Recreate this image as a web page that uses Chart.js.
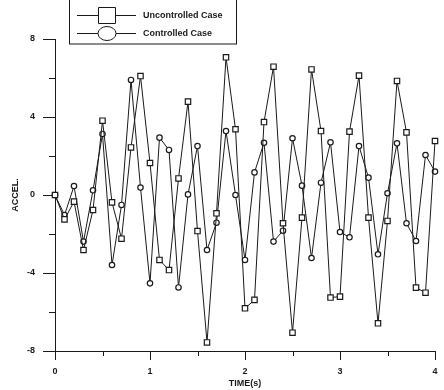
<!DOCTYPE html>
<html>
<head>
<meta charset="utf-8">
<script src="https://cdn.jsdelivr.net/npm/chart.js@4.4.1/dist/chart.umd.min.js"></script>
<style>
  html, body { margin: 0; padding: 0; background: #fff; }
  #wrap { width: 444px; height: 390px; position: relative; }
</style>
</head>
<body>
<div id="wrap"><canvas id="accelChart"></canvas></div>
<script>
// time samples (s)
const times = [0, 0.1, 0.2, 0.3, 0.4, 0.5, 0.6, 0.7, 0.8, 0.9,
  1.0, 1.1, 1.2, 1.3, 1.4, 1.5, 1.6, 1.7, 1.8, 1.9,
  2.0, 2.1, 2.2, 2.3, 2.4, 2.5, 2.6, 2.7, 2.8, 2.9,
  3.0, 3.1, 3.2, 3.3, 3.4, 3.5, 3.6, 3.7, 3.8, 3.9, 4.0];

// acceleration
const uncontrolled = [0, -1.25, -0.34, -2.82, -0.77, 3.81, -0.38, -2.24, 2.44, 6.1,
  1.64, -3.33, -3.85, 0.85, 4.79, -1.85, -7.56, -0.94, 7.06, 3.37,
  -5.81, -5.38, 3.74, 6.58, -1.45, -7.06, -1.16, 6.44, 3.28, -5.26,
  -5.21, 3.25, 6.12, -1.16, -6.58, -1.33, 5.85, 3.21, -4.75, -5.01, 2.77];

const controlled = [0, -1.03, 0.46, -2.39, 0.24, 3.13, -3.59, -0.51, 5.9, 0.38,
  -4.53, 2.94, 2.31, -4.74, 0.03, 2.51, -2.82, -1.42, 3.28, 0.0,
  -3.33, 1.16, 2.68, -2.39, -1.83, 2.91, 0.48, -3.23, 0.63, 2.7,
  -1.9, -2.17, 2.51, 0.89, -3.04, 0.09, 2.65, -1.45, -2.36, 2.05, 1.2];

const yMinorTicks = [6, 2, -2, -6];
const xMinorTicks = [0.5, 1.5, 2.5, 3.5];
const seriesNames = ['Uncontrolled Case', 'Controlled Case'];

const INK = '#1a1a1a';
const FONT = 'Liberation Sans, Arial, sans-serif';

function toPoints(ys) {
  return ys.map((y, i) => ({ x: times[i], y: y }));
}

// short unlabelled ticks on both axes
const minorTicks = {
  id: 'minorTicks',
  afterDraw(chart) {
    const c = chart.ctx, x = chart.scales.x, y = chart.scales.y;
    c.save();
    c.strokeStyle = INK;
    c.lineWidth = 1;
    yMinorTicks.forEach(v => {
      const py = Math.round(y.getPixelForValue(v)) + 0.5;
      c.beginPath();
      c.moveTo(y.right - 6, py);
      c.lineTo(y.right, py);
      c.stroke();
    });
    xMinorTicks.forEach(v => {
      const px = Math.round(x.getPixelForValue(v)) + 0.5;
      c.beginPath();
      c.moveTo(px, x.top);
      c.lineTo(px, x.top + 5);
      c.stroke();
    });
    c.restore();
  }
};

// boxed legend with big markers
const boxLegend = {
  id: 'boxLegend',
  afterDraw(chart) {
    const c = chart.ctx;
    c.save();
    c.strokeStyle = INK;
    c.fillStyle = INK;
    c.lineWidth = 1;
    c.strokeRect(69.5, -2, 167, 46);
    const rows = [15, 33];
    chart.data.datasets.forEach((ds, i) => {
      const ry = rows[i] + 0.5;
      c.beginPath();
      c.moveTo(77, ry);
      c.lineTo(136, ry);
      c.stroke();
      c.beginPath();
      if (ds.pointStyle === 'rect') {
        c.rect(98.5, ry - 8, 17, 16);
      } else {
        c.ellipse(107, ry, 9, 7, 0, 0, Math.PI * 2);
      }
      c.fillStyle = '#fff';
      c.fill();
      c.stroke();
      c.fillStyle = INK;
      c.font = 'bold 9px ' + FONT;
      c.textBaseline = 'middle';
      c.fillText(ds.label, 143, ry);
    });
    c.restore();
  }
};

new Chart(document.getElementById('accelChart'), {
  type: 'line',
  data: {
    datasets: [
      {
        label: seriesNames[0],
        data: toPoints(uncontrolled),
        borderColor: INK,
        borderWidth: 1,
        pointStyle: 'rect',
        pointRadius: 3.8,
        pointBorderWidth: 1.2,
        pointBackgroundColor: '#fff',
        pointBorderColor: INK,
        tension: 0,
        clip: false
      },
      {
        label: seriesNames[1],
        data: toPoints(controlled),
        borderColor: INK,
        borderWidth: 1,
        pointStyle: 'circle',
        pointRadius: 2.7,
        pointBorderWidth: 1.2,
        pointBackgroundColor: '#fff',
        pointBorderColor: INK,
        tension: 0,
        clip: false
      }
    ]
  },
  options: {
    responsive: true,
    maintainAspectRatio: false,
    animation: false,
    layout: { padding: { top: 39, right: 9, left: 0, bottom: 0 } },
    plugins: {
      legend: { display: false },
      tooltip: { enabled: false }
    },
    scales: {
      x: {
        type: 'linear',
        min: 0,
        max: 4,
        afterFit: s => { s.height = 39; },
        border: { color: INK, width: 1 },
        grid: { drawOnChartArea: false, tickLength: 9, color: INK },
        ticks: {
          stepSize: 1,
          padding: 6,
          color: INK,
          font: { family: FONT, size: 9, weight: 'bold' },
          maxRotation: 0
        },
        title: {
          display: true,
          text: 'TIME(s)',
          color: INK,
          font: { family: FONT, size: 9, weight: 'bold' },
          padding: { top: 0, bottom: 1 }
        }
      },
      y: {
        min: -8,
        max: 8,
        afterFit: s => { s.width = 55; },
        border: { color: INK, width: 1 },
        grid: { drawOnChartArea: false, tickLength: 12, color: INK },
        ticks: {
          stepSize: 4,
          padding: 8,
          color: INK,
          font: { family: FONT, size: 9, weight: 'bold' }
        },
        title: {
          display: true,
          text: 'ACCEL.',
          color: INK,
          font: { family: FONT, size: 9, weight: 'bold' },
          padding: { top: 10, bottom: 0 }
        }
      }
    }
  },
  plugins: [minorTicks, boxLegend]
});
</script>
</body>
</html>
